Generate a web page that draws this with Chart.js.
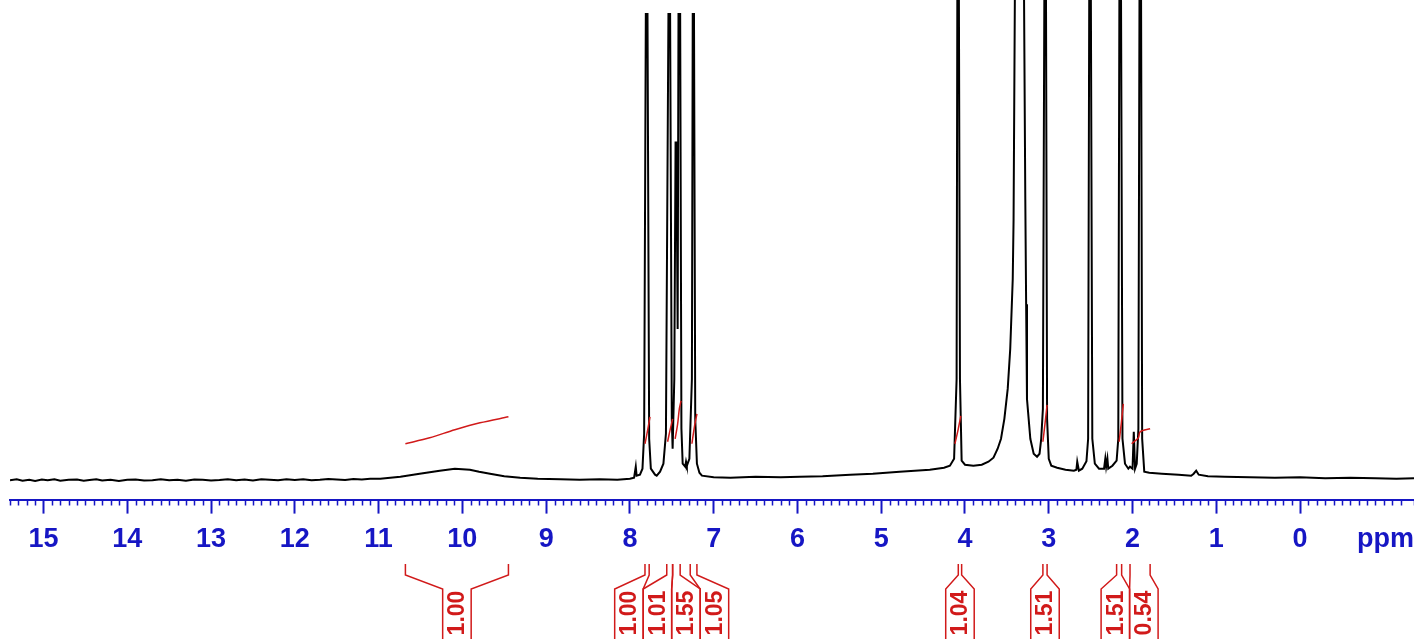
<!DOCTYPE html>
<html>
<head>
<meta charset="utf-8">
<title>1H NMR spectrum</title>
<script src="https://cdn.jsdelivr.net/npm/chart.js@4.4.1/dist/chart.umd.min.js"></script>
<style>
    html, body { margin: 0; padding: 0; background: #ffffff; }
    #wrap { position: relative; width: 1414px; height: 639px; }
</style>
</head>
<body>
<div id="wrap"><canvas id="nmrChart"></canvas></div>
<script>
// Spectrum trace: chemical shift (ppm) and intensity
const ppm = [
    15.40, 15.32, 15.25, 15.17, 15.10, 15.02, 14.95, 14.87, 14.80, 14.70,
    14.60, 14.52, 14.45, 14.37, 14.30, 14.20, 14.10, 14.00, 13.90, 13.80,
    13.70, 13.60, 13.50, 13.40, 13.30, 13.20, 13.10, 13.00, 12.90, 12.80,
    12.70, 12.60, 12.50, 12.40, 12.30, 12.20, 12.10, 12.00, 11.90, 11.80,
    11.70, 11.60, 11.50, 11.40, 11.30, 11.20, 11.10, 10.98, 10.74, 10.51,
    10.27, 10.09, 9.91, 9.80, 9.67, 9.50, 9.31, 9.10, 8.83, 8.60,
    8.36, 8.15, 8.00, 7.95, 7.93, 7.92, 7.88, 7.85, 7.83, 7.81,
    7.79, 7.77, 7.75, 7.70, 7.68, 7.64, 7.60, 7.57, 7.54, 7.52,
    7.50, 7.49, 7.47, 7.455, 7.445, 7.43, 7.42, 7.40, 7.385, 7.37,
    7.34, 7.33, 7.32, 7.29, 7.26, 7.25, 7.235, 7.22, 7.20, 7.17,
    7.14, 7.00, 6.80, 6.50, 6.20, 5.97, 5.70, 5.37, 5.10, 4.78,
    4.60, 4.42, 4.25, 4.18, 4.13, 4.10, 4.09, 4.075, 4.06, 4.04,
    4.00, 3.90, 3.80, 3.72, 3.66, 3.61, 3.57, 3.53, 3.49, 3.46,
    3.43, 3.42, 3.40, 3.30, 3.28, 3.27, 3.26, 3.22, 3.18, 3.14,
    3.11, 3.09, 3.07, 3.05, 3.035, 3.02, 3.00, 2.97, 2.90, 2.80,
    2.70, 2.67, 2.66, 2.64, 2.60, 2.55, 2.53, 2.515, 2.50, 2.48,
    2.45, 2.40, 2.34, 2.325, 2.315, 2.30, 2.29, 2.24, 2.19, 2.17,
    2.155, 2.14, 2.12, 2.09, 2.05, 2.03, 2.00, 1.985, 1.97, 1.95,
    1.93, 1.915, 1.90, 1.885, 1.86, 1.80, 1.65, 1.45, 1.30, 1.27,
    1.24, 1.21, 1.10, 0.90, 0.60, 0.30, 0.00, -0.30, -0.60, -0.90,
    -1.15, -1.36
];
const intensity = [
    -0.3, -0.1, -0.4, -0.2, -0.45, -0.15, -0.3, -0.1, -0.4, -0.2,
    -0.15, -0.4, -0.25, -0.1, -0.35, -0.2, -0.45, -0.2, -0.15, -0.35,
    -0.3, -0.1, -0.3, -0.2, -0.4, -0.15, -0.2, -0.35, -0.25, -0.1,
    -0.3, -0.15, -0.35, -0.1, -0.2, -0.3, -0.1, -0.25, -0.1, -0.3,
    -0.2, -0.05, -0.15, -0.25, -0.05, -0.15, 0.0, 0.0, 0.4, 1.0,
    1.6, 2.0, 1.8, 1.4, 1.0, 0.5, 0.2, 0.0, -0.1, -0.2,
    -0.1, -0.2, 0.0, 0.2, 2.4, 0.6, 0.8, 2.0, 9.0, 93.2,
    93.2, 8.0, 2.0, 0.8, 0.6, 1.4, 3.0, 9.0, 93.2, 93.2,
    12.0, 6.0, 20.0, 67.4, 67.4, 30.0, 93.2, 93.2, 10.0, 3.0,
    2.4, 3.4, 2.6, 4.0, 20.0, 93.2, 93.2, 12.0, 3.0, 1.2,
    0.6, 0.3, 0.2, 0.4, 0.3, 0.4, 0.5, 0.8, 1.0, 1.4,
    1.6, 1.8, 2.2, 2.6, 4.0, 20.0, 110, 110, 20.0, 3.6,
    2.8, 2.6, 2.8, 3.4, 4.2, 6.0, 8.0, 12.0, 18.0, 26.0,
    40.0, 52.0, 110, 110, 56.0, 35.0, 16.0, 8.0, 5.0, 4.4,
    5.0, 8.0, 14.0, 110, 110, 12.0, 4.0, 2.6, 2.2, 1.8,
    1.6, 1.8, 3.4, 1.6, 2.0, 3.5, 8.0, 110, 110, 8.0,
    3.0, 2.0, 2.0, 4.0, 2.4, 4.0, 2.0, 2.6, 3.6, 8.0,
    110, 110, 8.0, 3.0, 2.0, 2.4, 2.0, 9.4, 2.0, 3.0,
    10.0, 110, 110, 8.0, 1.4, 1.2, 1.0, 0.8, 0.6, 1.0,
    1.6, 0.8, 0.5, 0.4, 0.3, 0.2, 0.3, 0.1, 0.2, 0.1,
    0.0, 0.1
];

// Integration regions (ppm) and their values
const integralFrom = [10.68, 7.82, 7.56, 7.49, 7.28, 4.08, 3.07, 2.19, 2.03];
const integralTo = [9.45, 7.77, 7.49, 7.40, 7.20, 4.04, 3.02, 2.13, 1.79];
const integralLabels = ['1.00', '1.00', '1.01', '1.55', '1.05', '1.04', '1.51', '1.51', '0.54'];

// Running integral curves drawn over the peaks: [ppm, height]
const integralCurves = [
    [[10.68, 7.0], [10.39, 8.2], [10.09, 9.8], [9.79, 11.2], [9.45, 12.4]],
    [[7.82, 7.0], [7.79, 9.6], [7.76, 12.4]],
    [[7.55, 7.4], [7.52, 9.8], [7.49, 12.0]],
    [[7.46, 8.0], [7.43, 11.0], [7.41, 14.0], [7.39, 15.6]],
    [[7.26, 7.0], [7.23, 10.4], [7.20, 13.0]],
    [[4.12, 7.0], [4.08, 10.0], [4.05, 12.6]],
    [[3.07, 7.4], [3.045, 11.0], [3.02, 14.8]],
    [[2.16, 7.4], [2.135, 11.0], [2.11, 15.0]],
    [[2.01, 7.0], [1.93, 8.2], [1.91, 9.4], [1.79, 10.0]]
];

const axisBlue = '#1616c4';
const integralRed = '#d11a1a';

function isWhole(v) {
    return Math.abs(v - Math.round(v)) < 1e-6;
}

// Minor ticks, "ppm" unit and the integral brackets under the axis
const nmrDecor = {
    id: 'nmrDecor',
    afterDraw(chart) {
        const ctx = chart.ctx;
        const xs = chart.scales.x;
        const axisY = xs.top;

        ctx.save();
        ctx.strokeStyle = axisBlue;
        ctx.lineWidth = 1.5;
        ctx.beginPath();
        xs.ticks.forEach(t => {
            if (isWhole(t.value) && t.value >= 0) return;
            const px = Math.round(xs.getPixelForValue(t.value)) + 0.5;
            ctx.moveTo(px, axisY);
            ctx.lineTo(px, axisY + 6);
        });
        ctx.stroke();

        ctx.fillStyle = axisBlue;
        ctx.font = 'bold 27px "Liberation Sans", Arial, sans-serif';
        ctx.textAlign = 'right';
        ctx.textBaseline = 'middle';
        ctx.fillText('ppm', chart.width, axisY + 40);

        // label columns: centred under their region, pushed apart when they overlap
        const colW = 28.5;
        const centers = integralFrom.map((f, i) =>
            (xs.getPixelForValue(f) + xs.getPixelForValue(integralTo[i])) / 2);
        let groups = centers.map((c, i) => ({ idx: [i], center: c }));
        let merged = true;
        while (merged) {
            merged = false;
            for (let k = 0; k < groups.length - 1; k++) {
                const a = groups[k], b = groups[k + 1];
                if (a.center + a.idx.length * colW / 2 > b.center - b.idx.length * colW / 2) {
                    const idx = a.idx.concat(b.idx);
                    const center = idx.reduce((s, i) => s + centers[i], 0) / idx.length;
                    groups.splice(k, 2, { idx, center });
                    merged = true;
                    break;
                }
            }
        }
        const colLeft = [];
        groups.forEach(g => {
            const start = g.center - g.idx.length * colW / 2;
            g.idx.forEach((i, n) => { colLeft[i] = start + n * colW; });
        });

        const yTop = 564, yKnee1 = 575, yKnee2 = 589, yBottom = chart.height;
        ctx.strokeStyle = integralRed;
        ctx.lineWidth = 1.5;
        integralFrom.forEach((f, i) => {
            const xl = Math.min(xs.getPixelForValue(f), xs.getPixelForValue(integralTo[i]));
            const xr = Math.max(xs.getPixelForValue(f), xs.getPixelForValue(integralTo[i]));
            const cl = colLeft[i], cr = colLeft[i] + colW;
            ctx.beginPath();
            ctx.moveTo(xl, yTop);
            ctx.lineTo(xl, yKnee1);
            ctx.lineTo(cl, yKnee2);
            ctx.lineTo(cl, yBottom);
            ctx.moveTo(xr, yTop);
            ctx.lineTo(xr, yKnee1);
            ctx.lineTo(cr, yKnee2);
            ctx.lineTo(cr, yBottom);
            ctx.stroke();

            ctx.save();
            ctx.translate(cl + colW / 2, 613);
            ctx.rotate(-Math.PI / 2);
            ctx.fillStyle = integralRed;
            ctx.font = 'bold 23px "Liberation Sans", Arial, sans-serif';
            ctx.textAlign = 'center';
            ctx.textBaseline = 'middle';
            ctx.fillText(integralLabels[i], 0, 1);
            ctx.restore();
        });
        ctx.restore();
    }
};

document.addEventListener('DOMContentLoaded', () => {
    const ctx = document.getElementById('nmrChart').getContext('2d');

    const datasets = [{
        label: 'spectrum',
        data: ppm.map((p, i) => ({ x: p, y: intensity[i] })),
        borderColor: '#000000',
        borderWidth: 2,
        pointRadius: 0,
        tension: 0,
        order: 2
    }];
    integralCurves.forEach((curve, i) => {
        datasets.push({
            label: 'integral ' + integralLabels[i],
            data: curve.map(c => ({ x: c[0], y: c[1] })),
            borderColor: integralRed,
            borderWidth: 1.5,
            pointRadius: 0,
            tension: 0.3,
            order: 1
        });
    });

    new Chart(ctx, {
        type: 'line',
        data: { datasets },
        options: {
            responsive: true,
            maintainAspectRatio: false,
            animation: false,
            layout: {
                padding: { left: 10, right: 0, top: 0, bottom: 73 }
            },
            scales: {
                x: {
                    type: 'linear',
                    reverse: true,
                    min: -1.36,
                    max: 15.40,
                    // the axis runs to the right edge, so drop the label side padding
                    afterFit: scale => {
                        scale.paddingLeft = 0;
                        scale.paddingRight = 0;
                    },
                    grid: {
                        drawOnChartArea: false,
                        drawTicks: true,
                        tickLength: 14,
                        tickWidth: 2,
                        tickColor: c => (c.tick && isWhole(c.tick.value) && c.tick.value >= 0) ? axisBlue : 'rgba(0,0,0,0)'
                    },
                    border: {
                        display: true,
                        color: axisBlue,
                        width: 2
                    },
                    ticks: {
                        stepSize: 0.1,
                        autoSkip: false,
                        maxRotation: 0,
                        padding: 10,
                        color: axisBlue,
                        font: { family: '"Liberation Sans", Arial, sans-serif', size: 27, weight: 'bold' },
                        callback: v => (isWhole(v) && v >= 0) ? String(Math.round(v)) : ''
                    }
                },
                y: {
                    display: false,
                    min: -4.2,
                    max: 96
                }
            },
            plugins: {
                legend: { display: false },
                tooltip: { enabled: false }
            }
        },
        plugins: [nmrDecor]
    });
});
</script>
</body>
</html>
